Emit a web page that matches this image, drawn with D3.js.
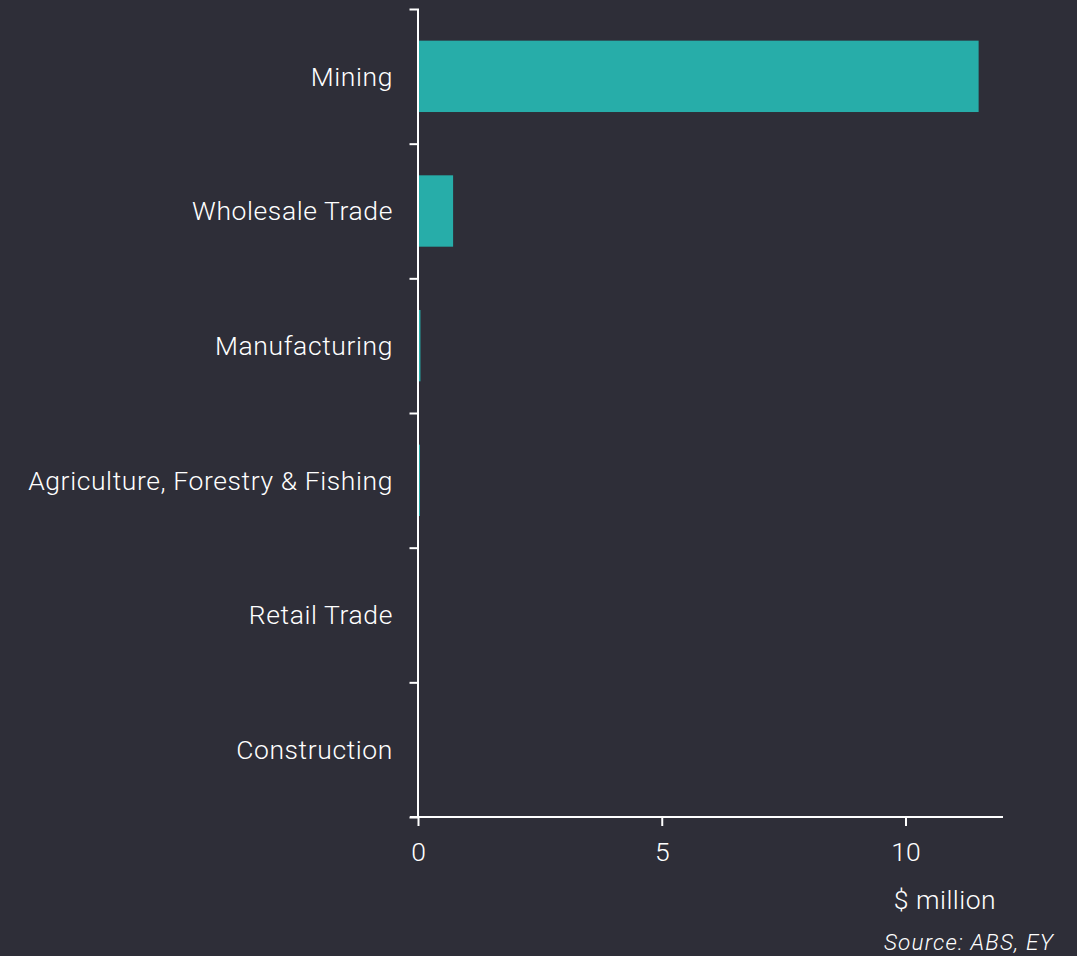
<!DOCTYPE html>
<html>
<head>
<meta charset="utf-8">
<script src="https://cdn.jsdelivr.net/npm/d3@7"></script>
<style>
  html, body { margin: 0; padding: 0; background: #2e2e38; }
  svg { display: block; }
</style>
</head>
<body>
<div id="chart"></div>
<script>
const categories = ["Mining", "Wholesale Trade", "Manufacturing", "Agriculture, Forestry & Fishing", "Retail Trade", "Construction"];
const values = [11.5, 0.72, 0.05, 0.04, 0, 0];
const xTicks = [0, 5, 10];
const xTitle = "$ million";
const sourceText = "Source: ABS, EY";

const W = 1077, H = 956;
const margin = { top: 9, right: 74, bottom: 139, left: 418 };
const FONT = "Roboto, 'Noto Sans', sans-serif";
const BG = "#2e2e38", BAR = "#27ada9", FG = "#ffffff";

const svg = d3.select("#chart").append("svg")
  .attr("width", W).attr("height", H)
  .style("background", BG);

const x = d3.scaleLinear().domain([0, 12]).range([margin.left, W - margin.right]);
const y = d3.scaleBand().domain(categories)
  .range([margin.top, H - margin.bottom])
  .paddingInner(0.47).paddingOuter(0.235);
const yEdge = d3.scaleLinear().domain([0, categories.length])
  .range([margin.top, H - margin.bottom]);

// bars
svg.append("g").selectAll("rect").data(categories).join("rect")
  .attr("x", x(0))
  .attr("y", d => y(d))
  .attr("width", (d, i) => Math.max(0, x(values[i]) - x(0)))
  .attr("height", y.bandwidth())
  .attr("fill", BAR);

// y axis (ticks on band boundaries)
const yAx = svg.append("g").attr("transform", `translate(${x(0) - 0.5},0)`)
  .call(d3.axisLeft(yEdge).tickValues(d3.range(1, categories.length))
    .tickSize(8).tickSizeOuter(8).tickFormat(""));
yAx.selectAll("path, line").attr("stroke", FG).attr("stroke-width", 2);

// category labels
svg.append("g").selectAll("text").data(categories).join("text")
  .attr("x", x(0) - 25)
  .attr("y", d => y(d) + y.bandwidth() / 2)
  .attr("dy", "0.35em")
  .attr("text-anchor", "end")
  .attr("fill", FG)
  .style("font-family", FONT)
  .style("font-weight", 300)
  .style("letter-spacing", "0.6px")
  .style("font-size", "26.5px")
  .text(d => d);

// x axis
const xAx = svg.append("g").attr("transform", `translate(0,${H - margin.bottom})`)
  .call(d3.axisBottom(x).tickValues(xTicks).tickSize(9).tickSizeOuter(0).tickPadding(16));
xAx.selectAll("path, line").attr("stroke", FG).attr("stroke-width", 2);
xAx.selectAll("text").attr("fill", FG)
  .style("font-family", FONT).style("font-weight", 300).style("font-size", "26.5px");
xAx.select(".domain").attr("d", `M${x(0) - 8},0H${x(12)}`);

svg.append("text")
  .attr("x", 945).attr("y", 909)
  .attr("text-anchor", "middle")
  .attr("fill", FG)
  .style("font-family", FONT).style("font-weight", 300)
  .style("letter-spacing", "0.5px").style("font-size", "26.5px")
  .text(xTitle);

svg.append("text")
  .attr("x", 1054).attr("y", 950)
  .attr("text-anchor", "end")
  .attr("fill", FG)
  .style("font-family", FONT).style("font-weight", 300)
  .style("font-size", "22.5px").style("font-style", "italic")
  .style("letter-spacing", "1.2px")
  .text(sourceText);
</script>
</body>
</html>
